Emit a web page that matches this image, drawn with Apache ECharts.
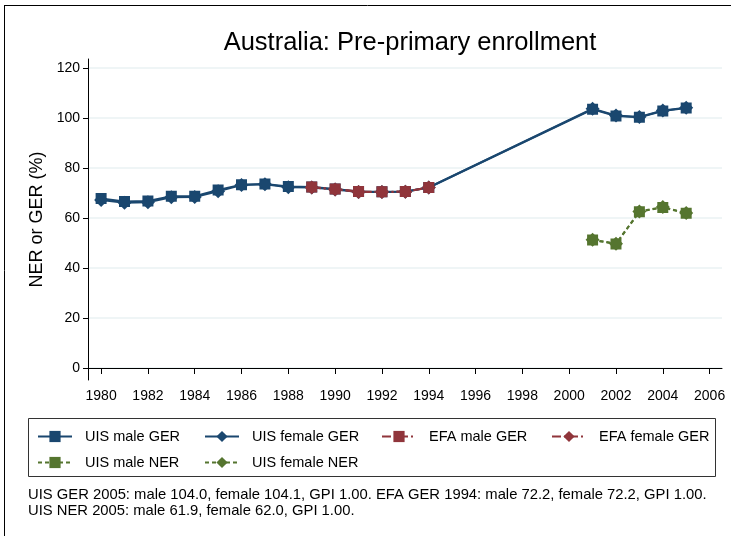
<!DOCTYPE html>
<html>
<head>
<meta charset="utf-8">
<script src="https://cdn.jsdelivr.net/npm/echarts@6/dist/echarts.min.js"></script>
<style>
  html, body { margin: 0; padding: 0; background: #fff; }
  #chart { width: 731px; height: 536px; }
</style>
</head>
<body>
<div id="chart"></div>
<script>
// years
var gerYears = [1980, 1981, 1982, 1983, 1984, 1985, 1986, 1987, 1988, 1989, 1990, 1991, 1992, 1993, 1994, 2001, 2002, 2003, 2004, 2005];
var efaYears = [1989, 1990, 1991, 1992, 1993, 1994];
var nerYears = [2001, 2002, 2003, 2004, 2005];

// values (%)
var uisMaleGer   = [67.8, 66.6, 66.8, 68.7, 68.7, 71.2, 73.3, 73.6, 72.6, 72.4, 71.6, 70.6, 70.5, 70.6, 72.2, 103.5, 100.8, 100.3, 102.8, 104.0];
var uisFemaleGer = [67.2, 66.1, 66.3, 68.3, 68.4, 70.7, 73.2, 73.5, 72.3, 72.2, 71.4, 70.4, 70.4, 70.5, 72.2, 103.7, 101.0, 100.4, 103.0, 104.1];
var efaMaleGer   = [72.4, 71.6, 70.6, 70.5, 70.6, 72.2];
var efaFemaleGer = [72.2, 71.4, 70.4, 70.4, 70.5, 72.2];
var uisMaleNer   = [51.2, 49.6, 62.5, 64.2, 61.9];
var uisFemaleNer = [51.3, 49.7, 62.6, 64.4, 62.0];

// tick labels
var yTicks = [0, 20, 40, 60, 80, 100, 120];
var xTicks = [1980, 1982, 1984, 1986, 1988, 1990, 1992, 1994, 1996, 1998, 2000, 2002, 2004, 2006];

var navy = '#1a476f', maroon = '#90353b', green = '#55752f';
var font = 'Liberation Sans, Arial, sans-serif';

function pairs(xs, ys) {
  return xs.map(function (x, i) { return [x, ys[i]]; });
}

function mkSeries(name, xs, ys, color, symbol, size, dash) {
  return {
    name: name,
    type: 'line',
    data: pairs(xs, ys),
    symbol: symbol,
    symbolSize: size,
    showAllSymbol: true,
    itemStyle: { color: color },
    lineStyle: { color: color, width: 2, type: dash || 'solid' },
    emphasis: { disabled: true },
    animation: false
  };
}

function mkLegend(name, left, top) {
  return {
    data: [name],
    left: left,
    top: top,
    itemWidth: 34,
    itemHeight: 14,
    padding: 0,
    selectedMode: false,
    textStyle: { fontFamily: font, fontSize: 14.5, color: '#000', padding: [0, 0, 0, 8] }
  };
}

var chart = echarts.init(document.getElementById('chart'), null, { renderer: 'canvas' });

chart.setOption({
  backgroundColor: '#fff',
  title: {
    text: 'Australia: Pre-primary enrollment',
    left: 405,
    top: 25,
    textAlign: 'center',
    textStyle: { fontFamily: font, fontSize: 25.5, fontWeight: 'normal', color: '#000' }
  },
  grid: { left: 88, right: 9, top: 59, bottom: 156 },
  xAxis: {
    type: 'value',
    min: 1979.44,
    max: 2006.53,
    axisLine: { show: true, lineStyle: { color: '#000', width: 1 } },
    axisTick: { show: true, customValues: xTicks, length: 6, lineStyle: { color: '#000' } },
    axisLabel: {
      customValues: xTicks, margin: 9, fontFamily: font, fontSize: 14, color: '#000',
      formatter: function (v) { return String(v); }
    },
    splitLine: { show: false }
  },
  yAxis: {
    type: 'value',
    min: -4.8,
    max: 123.6,
    name: 'NER or GER (%)',
    nameLocation: 'middle',
    nameGap: 42,
    nameRotate: 90,
    nameTextStyle: { fontFamily: font, fontSize: 18, color: '#000' },
    axisLine: { show: true, lineStyle: { color: '#000', width: 1 } },
    axisTick: { show: true, customValues: yTicks, length: 5, lineStyle: { color: '#000' } },
    axisLabel: { customValues: yTicks, margin: 8, fontFamily: font, fontSize: 14, color: '#000' },
    splitLine: { show: true, lineStyle: { color: '#eaf2f3', width: 1.5 } }
  },
  legend: [
    mkLegend('UIS male GER', 37, 429),
    mkLegend('UIS female GER', 204, 429),
    mkLegend('EFA male GER', 381, 429),
    mkLegend('EFA female GER', 551, 429),
    mkLegend('UIS male NER', 37, 455),
    mkLegend('UIS female NER', 204, 455)
  ],
  series: [
    mkSeries('UIS male GER', gerYears, uisMaleGer, navy, 'rect', 11),
    mkSeries('UIS female GER', gerYears, uisFemaleGer, navy, 'diamond', 14),
    mkSeries('EFA male GER', efaYears, efaMaleGer, maroon, 'rect', 11, [9, 3, 2, 3]),
    mkSeries('EFA female GER', efaYears, efaFemaleGer, maroon, 'diamond', 14, [9, 3, 2, 3]),
    mkSeries('UIS male NER', nerYears, uisMaleNer, green, 'rect', 11, [4, 3]),
    mkSeries('UIS female NER', nerYears, uisFemaleNer, green, 'diamond', 14, [4, 3])
  ],
  graphic: [
    { type: 'line', shape: { x1: 4, y1: 5.5, x2: 731, y2: 5.5 }, style: { stroke: '#000', lineWidth: 1 } },
    { type: 'line', shape: { x1: 4.5, y1: 5, x2: 4.5, y2: 536 }, style: { stroke: '#000', lineWidth: 1 } },
    { type: 'rect', shape: { x: 28.5, y: 418.5, width: 687, height: 58 }, style: { fill: 'none', stroke: '#333', lineWidth: 1 } },
    {
      type: 'text', left: 28, top: 487,
      style: {
        text: 'UIS GER 2005: male 104.0, female 104.1, GPI 1.00. EFA GER 1994: male 72.2, female 72.2, GPI 1.00.\nUIS NER 2005: male 61.9, female 62.0, GPI 1.00.',
        font: '14.8px ' + font, fill: '#000', lineHeight: 16
      }
    }
  ]
});
</script>
</body>
</html>
